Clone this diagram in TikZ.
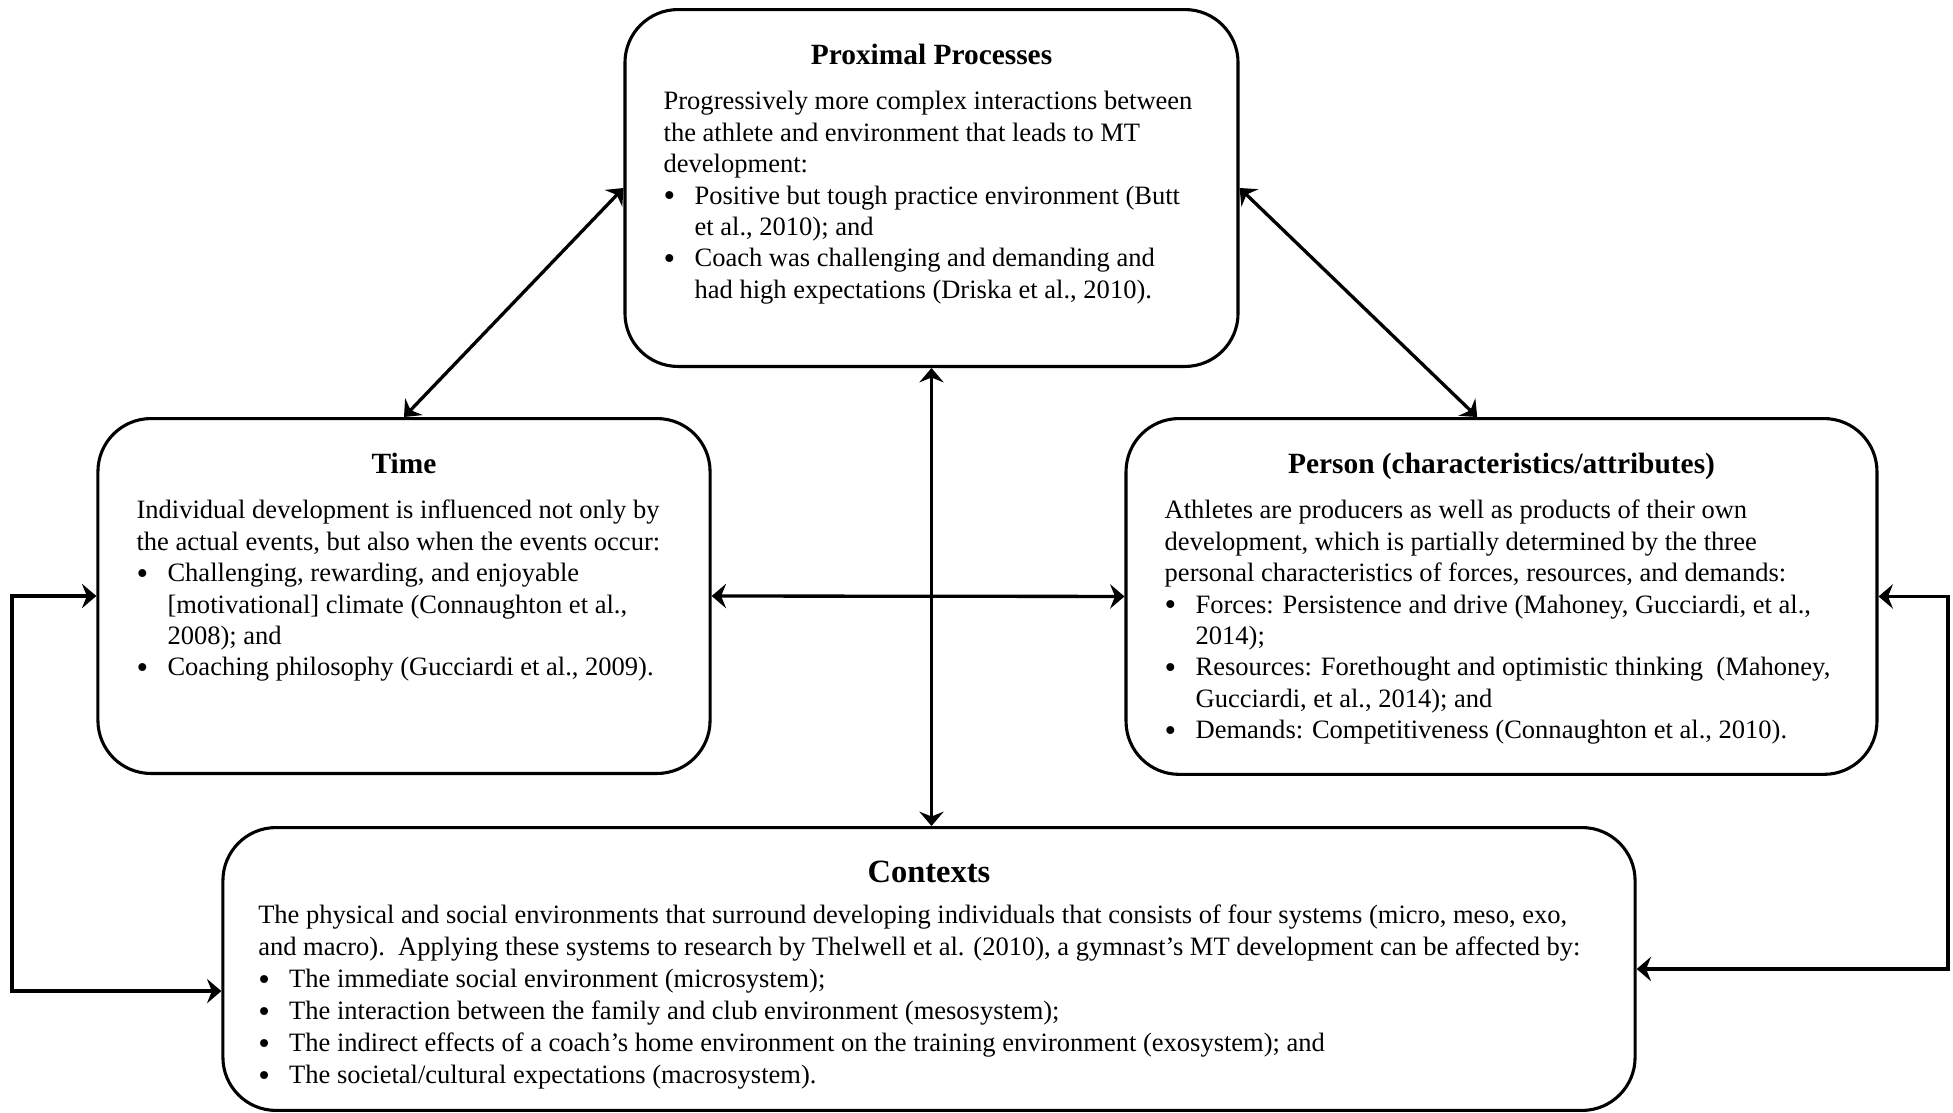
\documentclass[tikz,border=0pt]{standalone}
\usepackage{fontspec}
\setmainfont{Liberation Serif}
\usetikzlibrary{arrows.meta}
\usetikzlibrary{calc}

% bullet item with hanging indent
\newcommand{\bul}[1]{\par\hangindent=14pt\hangafter=1\noindent\makebox[14pt][l]{\raisebox{-1.3pt}{\fontsize{15}{14}\selectfont\textbullet}}#1}
% box content: width, height, title, body
\newcommand{\boxbody}[4]{%
  \begin{minipage}[t][#2][t]{#1}
    \fontsize{12}{14.2}\selectfont
    \vspace*{15.5pt}
    {\centering\fontsize{13.3}{15}\selectfont\textbf{#3}\par}
    \vspace{6.5pt}
    \raggedright\leftskip=17.5pt\relax
    #4
  \end{minipage}}

\begin{document}
\begin{tikzpicture}[x=0.4525pt,y=-0.4525pt,
    >={Stealth[length=6.5pt,width=11pt,inset=2.2pt]},
    frame/.style={draw, line width=1.4pt, rounded corners=24pt, inner sep=0pt, anchor=north},
    link/.style={<->, line width=1.5pt}]
	\useasboundingbox (0,0) rectangle (1953,1112);

	\node[frame] (prox) at (931.5,8) {\boxbody{277.4pt}{161.5pt}{Proximal Processes}{%
		Progressively more complex interactions between\newline the athlete and environment that leads to MT\newline development:
		\bul{Positive but tough practice environment (Butt\newline et al., 2010); and}
		\bul{Coach was challenging and demanding and\newline had high expectations (Driska et al., 2010).}}};

	\node[frame] (time) at (404,417) {\boxbody{277pt}{160.6pt}{Time}{%
		Individual development is influenced not only by\newline the actual events, but also when the events occur:
		\bul{Challenging, rewarding, and enjoyable\newline [motivational] climate (Connaughton et al.,\newline 2008); and}
		\bul{Coaching philosophy (Gucciardi et al., 2009).}}};

	\node[frame] (person) at (1501.5,417) {\boxbody{339.8pt}{161pt}{Person (characteristics/attributes)}{%
		Athletes are producers as well as products of their own\newline development, which is partially determined by the three\newline personal characteristics of forces, resources, and demands:
		\bul{Forces: Persistence and drive (Mahoney, Gucciardi, et al.,\newline 2014);}
		\bul{Resources: Forethought and optimistic thinking\ \ (Mahoney,\newline Gucciardi, et al., 2014); and}
		\bul{Demands: Competitiveness (Connaughton et al., 2010).}}};

	\node[frame] (ctx) at (929,826) {\begin{minipage}[t][128pt][t]{639pt}
		\fontsize{12}{14.5}\selectfont
		\vspace*{15pt}
		{\centering\fontsize{14.7}{16}\selectfont\textbf{Contexts}\par}
		\vspace{4pt}
		\raggedright\leftskip=16pt\relax
		The physical and social environments that surround developing individuals that consists of four systems (micro, meso, exo,\newline and macro).\ \ Applying these systems to research by Thelwell et al. (2010), a gymnast’s MT development can be affected by:
		\bul{The immediate social environment (microsystem);}
		\bul{The interaction between the family and club environment (mesosystem);}
		\bul{The indirect effects of a coach’s home environment on the training environment (exosystem); and}
		\bul{The societal/cultural expectations (macrosystem).}
	\end{minipage}};

	\coordinate (lft) at (12,0);
	\coordinate (rgt) at (1948,0);

	\draw[link] (prox.west) -- (time.north);
	\draw[link] (prox.east) -- ([xshift=-11pt]person.north);
	\draw[link] (prox.south) -- (prox.south |- ctx.north);
	\draw[link] (time.east) -- (person.west);
	\draw[link] (time.west) -- (time.west -| lft) |- ([yshift=-10pt]ctx.west);
	\draw[link] (person.east) -- (person.east -| rgt) |- (ctx.east);
\end{tikzpicture}
\end{document}
